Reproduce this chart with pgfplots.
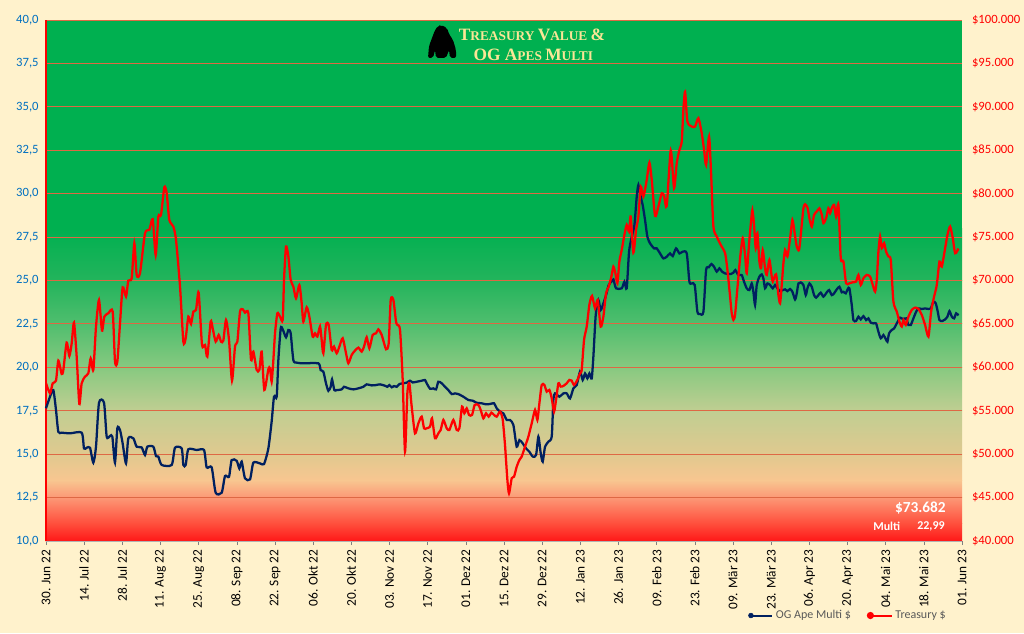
\documentclass[border=0pt]{standalone}
\usepackage{pgfplots}
\pgfplotsset{compat=1.18}
\usepackage{pgfplotstable}
\usepackage{fontspec}
\setmainfont{Carlito}
\newfontfamily\titlefont{Liberation Serif}
\definecolor{cream}{RGB}{255,242,204}
\definecolor{navy}{RGB}{0,32,96}
\definecolor{labelblue}{RGB}{0,112,192}
\definecolor{gridred}{RGB}{222,104,68}
\definecolor{legendgray}{RGB}{89,89,89}
\definecolor{titleyellow}{RGB}{250,230,150}
\definecolor{g40}{RGB}{0,176,80}
\definecolor{g28}{RGB}{0,176,80}
\definecolor{g25}{RGB}{35,180,92}
\definecolor{g225}{RGB}{80,190,110}
\definecolor{g20}{RGB}{135,201,128}
\definecolor{g175}{RGB}{192,206,146}
\definecolor{g15}{RGB}{224,201,143}
\definecolor{g135}{RGB}{248,198,144}
\definecolor{g125}{RGB}{252,152,118}
\definecolor{g11}{RGB}{255,78,60}
\definecolor{g10}{RGB}{255,24,24}

\pgfplotstableread{
d m
0 17.64
1.47 18.31
2.69 18.69
3.67 17.54
4.52 16.29
5.75 16.24
8.80 16.20
13.08 16.24
13.94 15.33
14.92 15.37
16.14 15.37
17.36 14.51
18.34 15.43
19.44 17.96
21.28 17.96
22.26 16.01
23.48 16.05
24.33 16.01
25.31 14.51
26.17 16.49
27.15 16.39
28.12 15.62
29.35 14.47
30.20 15.91
32.04 15.91
33.26 15.43
35.09 15.39
36.32 14.95
37.17 15.43
39.37 15.43
40.35 14.89
41.21 14.86
42.43 14.38
46.10 14.38
47.32 15.37
49.77 15.33
50.38 14.38
51.24 14.38
52.21 15.28
55.27 15.24
57.96 15.24
58.94 14.24
60.77 14.24
62.24 12.78
64.44 12.78
65.66 13.74
67.13 13.70
68.11 14.66
69.94 14.62
70.92 14.18
71.78 14.57
73.00 13.61
74.84 13.55
76.06 14.51
78.50 14.47
79.97 14.43
81.56 15.33
82.78 16.90
83.64 18.31
84.62 18.31
85.23 20.42
86.09 22.24
86.82 22.19
88.04 21.73
88.90 22.15
89.75 21.96
90.73 20.42
91.95 20.27
94.40 20.23
99.90 20.23
100.76 19.84
101.74 19.75
102.71 19.08
103.57 18.65
104.43 18.88
104.92 19.31
105.77 18.69
106.63 18.69
108.46 18.73
109.32 18.88
110.91 18.79
112.74 18.73
114.58 18.79
116.41 18.88
117.63 19.02
119.47 18.96
121.06 18.98
122.52 19.02
124.36 18.94
125.21 18.88
125.95 18.98
126.81 18.85
127.66 18.92
128.64 18.88
129.62 19.04
131.08 19.08
132.31 19.12
133.53 19.23
134.51 19.13
135.98 19.17
137.81 19.23
139.03 19.27
139.64 19.08
140.87 18.77
142.09 18.79
143.07 18.73
143.92 19.17
145.15 19.08
146.37 18.88
147.59 18.69
148.82 18.46
150.04 18.50
151.26 18.46
153.09 18.31
154.93 18.12
156.52 18.08
157.99 17.96
159.82 17.93
161.41 17.87
162.88 17.89
164.34 17.93
165.32 17.64
166.54 17.45
167.76 17.35
168.99 16.97
170.21 16.97
171.44 16.68
172.66 15.43
173.64 15.81
174.87 15.62
176.09 15.33
177.31 15.14
178.53 14.86
179.76 14.95
180.61 16.01
181.47 15.05
182.20 14.57
183.06 15.43
184.28 15.72
185.50 16.01
186.11 18.12
186.72 18.50
188.31 18.31
189.78 18.50
191.00 18.50
192.22 18.21
193.45 18.79
194.67 18.98
195.89 19.75
196.87 19.27
197.73 19.65
198.58 19.36
199.31 19.65
200.17 19.36
200.78 20.61
201.64 23.01
202.62 23.87
203.47 23.30
204.45 23.68
205.43 24.16
206.41 24.74
207.39 24.93
208.12 25.06
209.10 24.55
211.18 24.55
212.16 24.93
213.01 24.55
213.87 26.66
214.85 27.52
215.83 28.19
216.68 29.82
217.29 30.50
218.15 29.82
218.88 29.34
219.74 28.48
220.59 27.52
221.57 27.14
223.04 26.85
224.02 26.85
225.24 26.56
226.47 26.27
227.69 26.37
228.91 26.56
229.89 26.41
231.11 26.85
232.34 26.56
233.56 26.66
235.03 26.56
236.01 24.93
236.86 24.83
237.96 24.74
238.94 23.20
239.91 23.07
241.14 23.20
242.12 25.60
243.09 25.76
244.07 25.95
245.05 25.79
246.03 25.51
247.01 25.70
247.98 25.51
249.08 25.41
250.18 25.37
251.16 25.37
252.14 25.45
252.87 25.60
253.97 25.31
255.20 25.31
256.05 24.93
257.03 24.55
258.01 24.45
258.87 24.83
259.48 24.35
260.09 23.59
260.70 24.74
261.68 25.22
262.54 25.35
263.15 25.12
263.76 24.55
264.62 24.83
265.60 24.74
266.58 24.55
267.43 24.74
268.29 24.55
269.27 24.39
270.25 24.45
271.10 24.49
271.96 24.39
272.94 24.51
273.79 24.35
274.77 23.91
275.38 24.26
276.00 24.83
276.85 24.89
277.83 24.74
278.69 24.16
279.30 24.55
280.03 24.83
280.89 24.64
281.74 24.16
282.48 24.01
283.33 24.16
284.19 24.30
285.17 24.07
286.39 24.32
287.25 24.45
288.22 24.16
289.08 24.26
290.06 24.49
291.04 24.64
291.89 24.32
292.50 24.35
293.36 24.26
294.09 24.51
294.70 24.55
295.56 23.59
296.17 22.72
297.15 22.67
298.00 22.92
298.86 22.76
299.84 22.95
300.82 22.72
301.67 22.82
302.53 22.57
303.50 22.53
304.48 22.53
305.34 22.05
306.20 21.67
307.17 21.86
308.03 21.63
308.64 21.48
309.25 21.96
310.23 22.15
311.09 22.24
312.07 22.53
313.29 22.86
314.27 22.78
315.49 22.82
316.35 22.44
317.20 22.44
318.18 22.82
319.16 23.20
320.02 23.39
321.24 23.36
322.46 23.39
323.69 23.36
324.54 23.39
325.52 23.78
326.38 23.68
327.11 23.20
327.73 22.72
328.83 22.67
329.81 22.76
330.66 22.92
331.40 23.24
332.25 22.92
333.11 22.82
333.84 23.11
334.70 22.99
}\multidata

\pgfplotstableread{
d t
0 58.16
1.47 57.01
2.45 58.16
3.67 58.47
4.52 60.77
5.75 59.24
6.36 59.70
7.58 62.85
8.56 61.31
9.42 62.77
10.27 65.15
11.25 61.24
12.23 55.78
13.08 58.16
14.31 58.93
15.53 59.32
16.39 61.04
17.36 59.70
18.34 64.69
19.44 67.76
20.54 64.23
21.40 65.84
22.87 66.23
24.46 66.42
25.31 60.66
26.17 60.66
27.15 65.08
28.12 69.22
29.35 68.15
30.20 69.99
31.43 70.26
32.40 74.29
33.26 70.64
34.48 70.84
36.32 75.44
37.91 75.83
39.13 77.06
40.23 72.95
41.21 77.36
42.19 77.56
43.41 80.74
44.27 80.05
45.24 76.98
46.71 76.21
47.69 74.68
49.16 69.30
50.38 62.96
51.24 63.35
52.21 65.84
53.19 65.00
54.05 66.42
55.03 66.61
56.00 68.61
57.23 62.58
58.33 62.58
59.18 61.24
60.41 65.27
61.14 64.50
62.24 62.96
63.34 63.73
64.20 62.96
65.05 63.08
66.03 65.46
67.13 63.16
68.23 58.47
69.33 62.39
70.19 62.96
71.17 66.42
72.15 66.69
73.00 66.30
74.22 66.23
75.20 60.85
76.06 61.81
77.28 59.70
78.26 59.70
79.11 61.81
80.09 57.40
81.56 59.78
82.17 59.89
82.78 58.36
83.40 60.85
84.01 63.92
84.87 66.23
85.84 65.84
86.82 65.46
87.31 70.07
88.04 73.91
88.90 72.76
89.75 70.07
90.73 69.30
91.71 67.96
92.93 69.49
93.79 67.38
94.40 65.27
95.62 66.92
96.60 65.84
97.82 63.54
98.68 63.92
99.54 63.54
100.51 64.69
101.12 63.16
101.74 61.62
102.71 64.88
103.69 64.88
104.79 62.00
105.65 62.39
106.63 61.62
107.61 62.39
108.83 63.35
110.05 61.62
110.91 60.47
112.13 61.43
113.35 61.93
114.58 62.27
115.80 61.81
116.66 62.39
117.63 63.46
118.61 62.20
119.83 63.73
121.06 63.92
121.91 64.38
123.14 63.73
124.73 62.08
125.70 62.77
126.44 67.76
127.42 67.76
128.39 65.27
128.88 64.88
129.86 64.31
130.84 58.55
131.69 50.29
132.55 57.01
133.28 58.16
134.14 55.48
135.36 52.40
136.59 53.56
137.81 54.32
138.67 52.98
139.64 52.98
140.87 53.17
141.60 54.13
142.70 51.83
143.92 52.40
144.78 52.79
145.76 53.94
146.98 52.98
147.96 52.79
149.43 53.94
150.65 52.79
151.63 52.98
152.61 55.48
153.46 54.71
154.32 55.28
155.17 54.52
156.27 54.52
157.25 55.67
158.60 55.67
159.45 55.09
160.43 54.13
161.41 54.71
162.39 54.32
163.37 54.78
164.34 54.52
165.32 54.32
166.54 54.90
167.52 54.00
168.38 51.00
169.24 47.03
169.85 45.49
170.83 47.22
171.68 47.41
172.66 48.56
173.64 49.33
174.49 49.72
175.72 50.87
176.94 52.02
178.17 53.56
179.39 55.09
180.24 53.94
180.98 55.86
181.83 57.97
182.81 57.97
183.67 57.20
184.65 57.40
185.50 56.44
186.36 54.90
187.09 56.24
187.95 58.16
188.80 57.78
189.78 57.86
191.00 58.16
191.98 58.55
192.83 58.47
193.69 57.97
194.91 58.55
195.89 59.32
196.50 59.70
197.36 63.16
198.34 64.69
199.31 67.19
200.29 68.22
201.39 66.80
202.37 67.76
203.47 64.69
204.45 65.84
205.43 68.53
206.41 69.30
207.39 70.45
208.12 71.60
208.85 70.84
209.59 69.68
210.32 72.18
211.18 73.52
212.16 75.25
213.01 76.40
213.87 75.64
214.48 77.36
215.46 73.22
216.44 75.83
217.29 77.36
218.15 80.82
219.13 79.67
220.35 81.59
221.33 83.58
222.19 81.59
223.41 77.44
224.63 78.52
225.86 80.05
226.71 79.74
227.69 78.59
229.16 84.97
230.38 80.63
231.36 83.51
232.34 85.04
233.19 86.00
233.80 89.65
234.42 91.76
235.27 88.31
236.86 87.73
238.08 87.73
239.31 88.69
240.53 86.96
241.39 85.04
242.12 83.32
243.22 86.58
243.96 82.36
244.81 76.21
246.04 75.06
247.51 74.10
249.10 73.14
249.95 71.22
250.93 68.15
251.53 66.23
252.14 65.46
252.75 66.04
253.61 69.11
254.59 72.56
255.57 74.87
256.42 72.95
257.03 70.84
257.89 74.29
258.62 76.79
259.11 78.13
259.72 76.40
260.34 73.72
260.95 75.44
261.68 72.18
262.29 71.41
262.90 73.52
263.76 71.41
264.37 70.64
265.35 72.37
266.20 70.45
266.59 69.88
267.80 70.72
268.65 68.34
269.27 67.38
269.88 69.49
270.49 71.99
271.10 73.52
271.96 72.76
272.94 74.87
273.79 76.98
274.53 75.64
275.38 73.91
276.24 73.52
276.97 75.64
277.83 78.32
278.44 78.78
279.30 78.40
280.03 77.17
280.89 76.21
281.74 77.56
282.72 77.94
283.70 78.32
284.56 77.56
285.17 76.60
286.15 77.17
287.00 78.32
287.61 77.75
288.22 78.32
289.08 78.71
289.81 77.36
290.67 78.71
291.53 72.56
292.50 72.18
293.48 69.68
294.70 69.68
295.92 69.80
297.15 69.88
298.00 70.64
298.86 69.49
299.84 70.26
301.06 70.64
302.28 70.45
303.26 69.49
304.12 68.72
304.73 70.07
305.34 73.33
305.95 75.06
306.57 73.72
307.42 74.29
308.15 73.33
309.01 72.76
309.87 72.37
310.84 67.57
312.07 66.42
313.04 65.27
313.90 64.69
314.51 65.46
315.37 64.88
316.35 65.84
317.57 66.61
318.79 66.88
320.02 66.73
321.24 66.04
322.46 64.88
323.69 63.54
324.67 66.42
325.77 68.15
326.75 69.49
327.73 72.18
328.58 71.60
329.81 73.72
330.66 75.25
331.64 76.21
332.62 74.87
333.48 73.14
334.70 73.68
}\treasdata

\begin{document}
\begin{tikzpicture}
\fill[cream] (0,0) rectangle (768pt,474.75pt);
\begin{axis}[
  at={(34.5pt,69pt)}, anchor=south west,
  scale only axis, width=687pt, height=390.75pt,
  xmin=0, xmax=336, ymin=10, ymax=40,
  axis x line*=bottom, axis y line*=left,
  x axis line style={draw=gray!60, line width=0.5pt, -},
  y axis line style={draw=none, -},
  xtick={0,14,...,336},
  xticklabels={30. Jun 22,14. Jul 22,28. Jul 22,11. Aug 22,25. Aug 22,08. Sep 22,22. Sep 22,06. Okt 22,20. Okt 22,03. Nov 22,17. Nov 22,01. Dez 22,15. Dez 22,29. Dez 22,12. Jan 23,26. Jan 23,09. Feb 23,23. Feb 23,09. Mär 23,23. Mär 23,06. Apr 23,20. Apr 23,04. Mai 23,18. Mai 23,01. Jun 23},
  xticklabel style={rotate=90, anchor=east, font=\fontsize{10}{12}\selectfont, text=black},
  tick align=outside,
  xtick style={draw=gray, line width=0.5pt},
  major tick length=3pt,
  ytick={10,12.5,...,40},
  ytick style={draw=none},
  yticklabel style={font=\fontsize{9.5}{11}\selectfont, text=labelblue, xshift=1pt,
    /pgf/number format/.cd, fixed, fixed zerofill, precision=1, use comma, assume math mode=true},
  clip=false,
]
  \fill[g40] (axis cs:0,28) rectangle (axis cs:336,40);
  \shade[top color=g28, bottom color=g25] (axis cs:0,25) rectangle (axis cs:336,28);
  \shade[top color=g25, bottom color=g225] (axis cs:0,22.5) rectangle (axis cs:336,25);
  \shade[top color=g225, bottom color=g20] (axis cs:0,20) rectangle (axis cs:336,22.5);
  \shade[top color=g20, bottom color=g175] (axis cs:0,17.5) rectangle (axis cs:336,20);
  \shade[top color=g175, bottom color=g15] (axis cs:0,15) rectangle (axis cs:336,17.5);
  \shade[top color=g15, bottom color=g135] (axis cs:0,13.5) rectangle (axis cs:336,15);
  \shade[top color=g135, bottom color=g125] (axis cs:0,12.5) rectangle (axis cs:336,13.5);
  \shade[top color=g125, bottom color=g11] (axis cs:0,11) rectangle (axis cs:336,12.5);
  \shade[top color=g11, bottom color=g10] (axis cs:0,10) rectangle (axis cs:336,11);
  \pgfplotsinvokeforeach{12.5,15,17.5,20,22.5,25,27.5,30,32.5,35,37.5,40}{
    \draw[gridred, line width=0.7pt] (axis cs:0,#1) -- (axis cs:336,#1);
  }
  \draw[gray!60, line width=0.5pt] (axis cs:0,10) -- (axis cs:336,10);
  \draw[red, line width=0.8pt] (axis cs:0,10) -- (axis cs:0,40);
\addplot[navy, line width=1.7pt, smooth, tension=0.4] table[x=d, y=m]{\multidata};
\end{axis}
\begin{axis}[
  at={(34.5pt,69pt)}, anchor=south west,
  scale only axis, width=687pt, height=390.75pt,
  xmin=0, xmax=336, ymin=40, ymax=100,
  axis x line=none, axis y line*=right,
  y axis line style={draw=none},
  ytick={40,45,...,100},
  yticklabels={\$40.000,\$45.000,\$50.000,\$55.000,\$60.000,\$65.000,\$70.000,\$75.000,\$80.000,\$85.000,\$90.000,\$95.000,\$100.000},
  ytick style={draw=none},
  yticklabel style={font=\fontsize{9.5}{11}\selectfont, text=red, xshift=4pt},
  legend columns=2,
  legend style={at={(0.762,-0.143)}, anchor=west, draw=none, fill=none,
    font=\fontsize{9}{11}\selectfont, text=legendgray,
    /tikz/every even column/.append style={column sep=10pt}},
  legend image code/.code={\draw[#1, line width=1.5pt] (0pt,0pt) -- (16pt,0pt); \fill[#1] (0pt,0pt) circle (1.8pt);},
]
\addlegendimage{navy}
\addlegendentry{OG Ape Multi \$}
\addplot[red, line width=1.7pt, smooth, tension=0.4] table[x=d, y=t]{\treasdata};
\addlegendentry{Treasury \$}
\end{axis}
% title icon
\fill[black, rounded corners=1.5pt] (330.75pt,456pt) -- (335.25pt,453.75pt) -- (336.75pt,449.25pt) -- (339.75pt,444.75pt) -- (342pt,437.25pt) -- (342pt,431.25pt) -- (337.5pt,431.25pt) -- (336.75pt,437.25pt) -- (334.5pt,431.25pt) -- (327pt,431.25pt) -- (326.25pt,437.25pt) -- (324.75pt,431.25pt) -- (321pt,431.25pt) -- (321.75pt,440.25pt) -- (324pt,446.25pt) -- (326.25pt,452.25pt) -- (328.5pt,455.25pt) -- cycle;
\node[text=titleyellow, font=\titlefont\bfseries, inner sep=0pt] at (399pt,448.5pt)
  {{\fontsize{13}{15}\selectfont T}{\fontsize{10}{12}\selectfont REASURY} {\fontsize{13}{15}\selectfont V}{\fontsize{10}{12}\selectfont ALUE} {\fontsize{13}{15}\selectfont \&}};
\node[text=titleyellow, font=\titlefont\bfseries, inner sep=0pt] at (400pt,433.5pt)
  {{\fontsize{13}{15}\selectfont OG A}{\fontsize{10}{12}\selectfont PES} {\fontsize{13}{15}\selectfont M}{\fontsize{10}{12}\selectfont ULTI}};
% value box text
\node[anchor=east, text=white, font=\bfseries\fontsize{11.5}{13}\selectfont, inner sep=0pt] at (709.5pt,93.75pt) {\$73.682};
\node[anchor=west, text=white, font=\bfseries\fontsize{9}{11}\selectfont, inner sep=0pt] at (654.75pt,80.25pt) {Multi};
\node[anchor=east, text=white, font=\bfseries\fontsize{9}{11}\selectfont, inner sep=0pt] at (708.75pt,80.25pt) {22,99};
\pgfresetboundingbox
\path[use as bounding box] (0,0) rectangle (768pt,474.75pt);
\end{tikzpicture}
\end{document}
